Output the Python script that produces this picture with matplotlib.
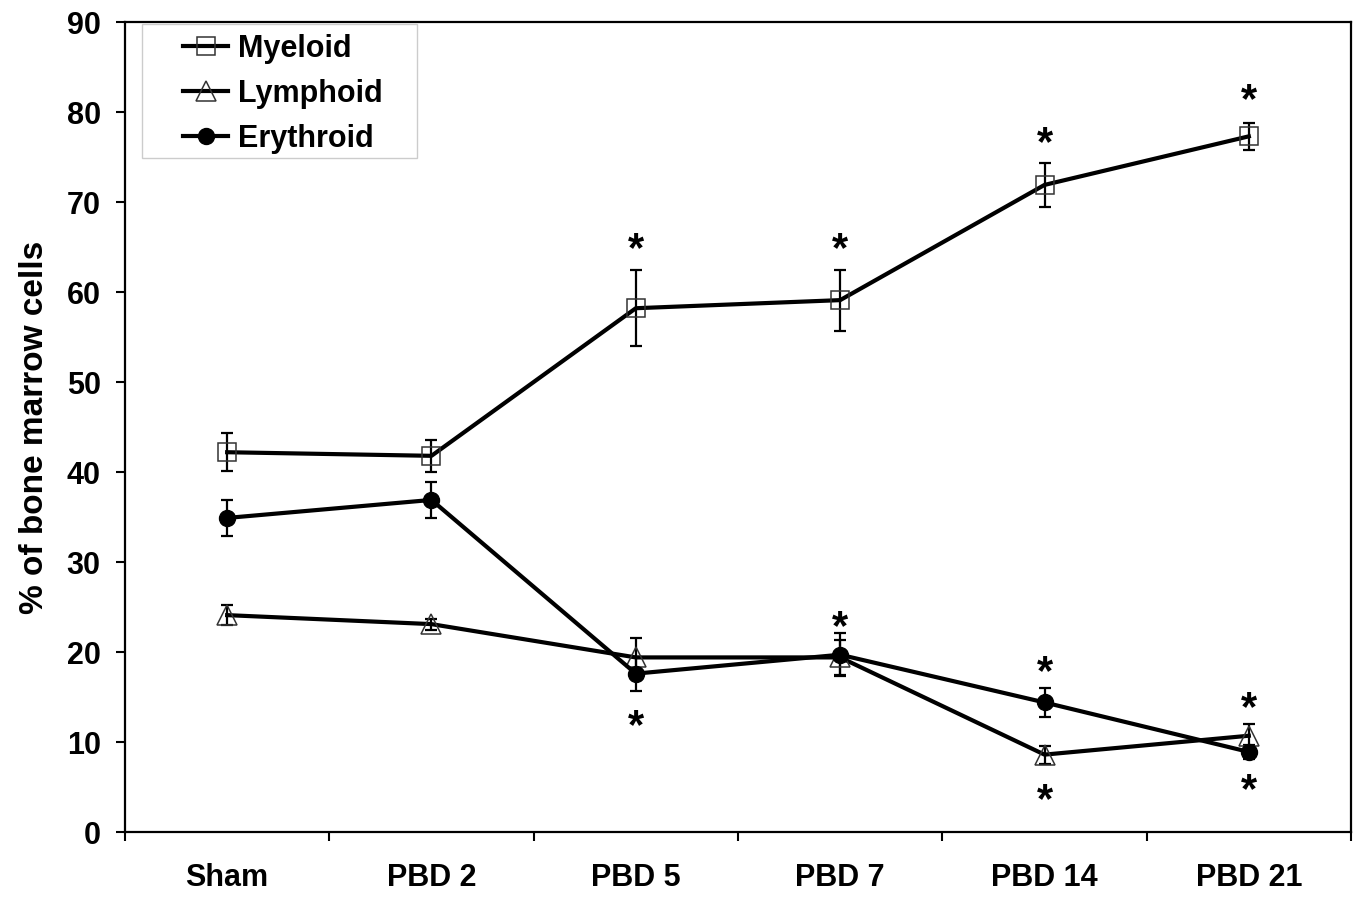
import matplotlib
matplotlib.use("Agg")
import numpy as np
import matplotlib.pyplot as plt
from matplotlib.patches import Rectangle

plt.rcParams['font.family'] = ['Liberation Sans', 'DejaVu Sans']
plt.rcParams['font.weight'] = 'bold'

groups = ['Sham', 'PBD 2', 'PBD 5', 'PBD 7', 'PBD 14', 'PBD 21']

myeloid = [42.2, 41.8, 58.2, 59.1, 71.9, 77.3]
myeloid_err = [2.1, 1.8, 4.2, 3.4, 2.4, 1.5]

lymphoid = [24.1, 23.1, 19.4, 19.4, 8.6, 10.7]
lymphoid_err = [1.1, 0.6, 2.2, 1.9, 1.0, 1.3]

erythroid = [34.9, 36.9, 17.6, 19.7, 14.4, 8.9]
erythroid_err = [2.0, 2.0, 1.9, 2.4, 1.6, 0.8]

# significance marks: (group index, y value)
stars = [(2, 65.4), (3, 65.4), (4, 77.1), (5, 81.9),
         (2, 12.4), (3, 23.4), (4, 18.4), (4, 4.1), (5, 14.3), (5, 5.2)]

x = np.arange(len(groups))

fig = plt.figure(figsize=(13.63, 8.99), dpi=100)
ax = fig.add_axes([0.0917, 0.0745, 0.8995, 0.901])

series = [
    ('Myeloid', myeloid, myeloid_err, dict(marker='s', ms=13, mfc='none', mec='#333333', mew=1.1)),
    ('Lymphoid', lymphoid, lymphoid_err, dict(marker='^', ms=14, mfc='none', mec='#333333', mew=1.1)),
    ('Erythroid', erythroid, erythroid_err, dict(marker='o', ms=11.5, mfc='black', mec='black')),
]
for name, vals, errs, style in series:
    ax.errorbar(x, vals, yerr=errs, fmt='none', ecolor='black',
                elinewidth=1.6, capsize=4, capthick=1.6, zorder=2)
    ax.plot(x, vals, color='black', lw=3.0, label=name, zorder=3, **style)

for gi, yv in stars:
    ax.annotate('*', (gi, yv), xytext=(0, -4.5), textcoords='offset points',
                ha='center', va='center', fontsize=30, fontweight='bold')

ax.set_xlim(-0.5, 5.5)
ax.set_ylim(0, 90)
ax.set_yticks(np.arange(0, 91, 10))
ax.set_xticks(x)
ax.set_xticklabels(groups)
ax.set_xticks(np.arange(-0.5, 6, 1), minor=True)
ax.tick_params(axis='x', which='major', length=0, pad=22, labelsize=22)
ax.tick_params(axis='x', which='minor', length=6.5, width=1.5, direction='out')
ax.tick_params(axis='y', length=6.5, width=1.5, direction='out', pad=11,
               labelsize=22)
for side in ax.spines.values():
    side.set_linewidth(1.6)

ax.set_ylabel('% of bone marrow cells', fontsize=24, fontweight='bold',
              labelpad=12)

# legend frame drawn separately so the inner padding can be uneven
ax.add_patch(Rectangle((0.0139, 0.832), 0.2243, 0.1655, transform=ax.transAxes,
                       fill=True, facecolor='white', edgecolor='#cccccc',
                       lw=1.0, zorder=5))
leg = ax.legend(loc='upper left', bbox_to_anchor=(0.047, 0.985), fontsize=22,
                handlelength=1.5, handletextpad=0.3, borderpad=0,
                borderaxespad=0, labelspacing=0.48, frameon=False)
leg.set_zorder(6)

fig.savefig('out.png', dpi=100)
